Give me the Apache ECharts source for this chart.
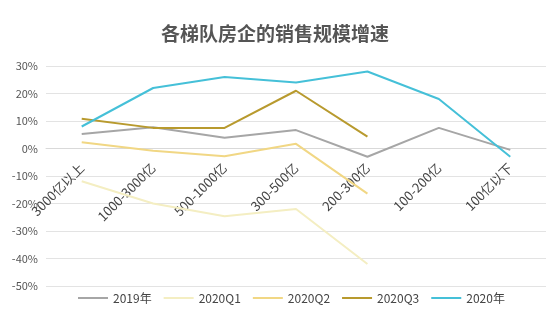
<!DOCTYPE html>
<html>
<head>
<meta charset="utf-8">
<script src="https://cdn.jsdelivr.net/npm/echarts@6/dist/echarts.min.js"></script>
<style>
  html, body { margin: 0; padding: 0; background: #fff; }
  #chart { width: 550px; height: 330px; }
</style>
</head>
<body>
<div id="chart"></div>
<script>
// Sales growth by developer tier (%)
const categories = ['3000亿以上', '1000-3000亿', '500-1000亿', '300-500亿', '200-300亿', '100-200亿', '100亿以下'];
const seriesNames = ['2019年', '2020Q1', '2020Q2', '2020Q3', '2020年'];
const growth2019 = [5.3, 7.7, 3.9, 6.7, -3.0, 7.5, -0.5];
const growthQ1 = [-11.9, -20.0, -24.6, -22.0, -42.0, null, null];
const growthQ2 = [2.3, -0.8, -2.8, 1.7, -16.4, null, null];
const growthQ3 = [10.8, 7.5, 7.5, 21.0, 4.3, null, null];
const growth2020 = [8, 22, 26, 24, 28, 18, -3];
const yTicks = { min: -50, max: 30, interval: 10 };

const colors = ['#a6a6a6', '#f4eec2', '#f1d784', '#b89a2e', '#45c0d8'];
const seriesData = [growth2019, growthQ1, growthQ2, growthQ3, growth2020];

const gridTop = 66;
const gridBottom = 44;
const chartHeight = 330;

const chart = echarts.init(document.getElementById('chart'));
const fontFamily = '"Microsoft YaHei", "Noto Sans CJK SC", sans-serif';

// Category axis sits on the 0% line: shift it up from the grid's bottom edge
const plotHeight = chartHeight - gridTop - gridBottom;
const zeroFromBottom = plotHeight * (0 - yTicks.min) / (yTicks.max - yTicks.min);

chart.setOption({
  animation: false,
  color: colors,
  textStyle: { fontFamily },
  title: {
    text: '各梯队房企的销售规模增速',
    left: 'center',
    top: 19,
    textStyle: { fontSize: 19, fontWeight: 'bold', color: '#555', fontFamily }
  },
  legend: {
    bottom: 21,
    left: 73,
    itemWidth: 30,
    itemHeight: 2,
    itemGap: 12,
    icon: 'rect',
    textStyle: { fontSize: 12, color: '#444', fontFamily },
    data: seriesNames
  },
  grid: { left: 46, right: 4, top: gridTop, bottom: gridBottom, containLabel: false, outerBoundsMode: 'none' },
  xAxis: {
    type: 'category',
    data: categories,
    boundaryGap: true,
    offset: -zeroFromBottom,
    axisLine: { onZero: false, lineStyle: { color: '#d9d9d9' } },
    axisTick: { show: false },
    axisLabel: { rotate: 45, fontSize: 13, color: '#444', margin: 17, interval: 0, fontFamily }
  },
  yAxis: {
    type: 'value',
    min: yTicks.min,
    max: yTicks.max,
    interval: yTicks.interval,
    axisLine: { show: false },
    axisTick: { show: false },
    axisLabel: { formatter: '{value}%', fontSize: 11, color: '#555', margin: 8, fontFamily },
    splitLine: { lineStyle: { color: '#e3e3e3', width: 1 } }
  },
  series: seriesNames.map((name, i) => ({
    name,
    type: 'line',
    data: seriesData[i],
    symbol: 'none',
    smooth: false,
    lineStyle: { width: 2, color: colors[i] },
    z: i === 4 ? 5 : 2,
    label: i === 4 ? {
      show: true,
      position: 'top',
      distance: 10,
      formatter: p => p.value + '%',
      color: '#45c0d8',
      fontSize: 11,
      fontFamily
    } : { show: false }
  }))
});
</script>
</body>
</html>
